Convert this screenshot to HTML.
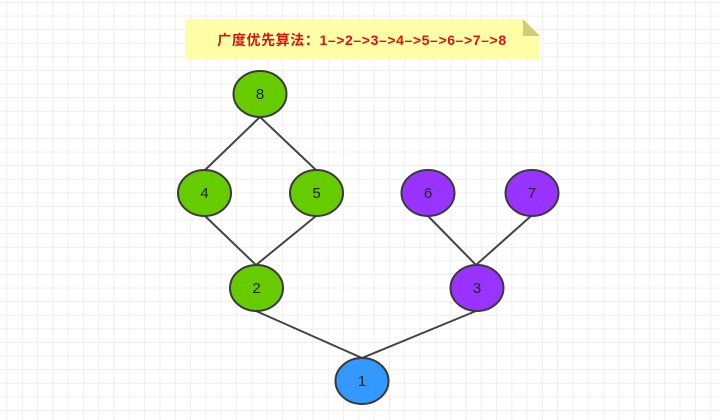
<!DOCTYPE html>
<html><head><meta charset="utf-8"><style>
html,body{margin:0;padding:0;width:720px;height:420px;overflow:hidden;background:#fff}
</style></head><body>
<svg width="720" height="420" xmlns="http://www.w3.org/2000/svg">
<defs>
<pattern id="g" x="6.5" y="2" width="15.3" height="13.6" patternUnits="userSpaceOnUse">
<path d="M0 0V13.6M0 0H15.3" stroke="#ebebeb" stroke-width="1.6" fill="none"/>
</pattern>
</defs>
<rect width="720" height="420" fill="url(#g)"/>
<polygon points="185,19 523,19 540,36 540,59 185,59" fill="#ffffa8"/>
<polygon points="523,19 540,36 523,36" fill="#d0cc78"/>
<text x="362" y="45" text-anchor="middle" font-family="Liberation Sans,'Noto Sans CJK SC',sans-serif" font-size="14" font-weight="bold" letter-spacing="0.6" fill="#dd1111">广度优先算法：1–&gt;2–&gt;3–&gt;4–&gt;5–&gt;6–&gt;7–&gt;8</text>
<g stroke="#444" stroke-width="2" fill="none">
<path d="M260 117L205 170M260 117L316 170M205 216L256 265M316 216L256 265M428 216L476 265M531 216L476 265M256 311L362 358M476 311L362 358"/>
</g>
<g stroke="#3a3a3a" stroke-width="2">
<ellipse cx="260" cy="94" rx="26.5" ry="23" fill="#66cc00"/>
<ellipse cx="204.5" cy="193" rx="26.5" ry="23" fill="#66cc00"/>
<ellipse cx="316.5" cy="193" rx="26.5" ry="23" fill="#66cc00"/>
<ellipse cx="428" cy="193" rx="26.5" ry="23" fill="#9933ff"/>
<ellipse cx="532" cy="193" rx="26.5" ry="23" fill="#9933ff"/>
<ellipse cx="256.5" cy="288" rx="26.5" ry="23" fill="#66cc00"/>
<ellipse cx="477" cy="288" rx="26.5" ry="23" fill="#9933ff"/>
<ellipse cx="362" cy="381" rx="26.5" ry="23" fill="#3399ff"/>
</g>
<g font-family="Liberation Sans,sans-serif" font-size="15" fill="#222" text-anchor="middle">
<text x="260" y="99">8</text><text x="204.5" y="198">4</text><text x="316.5" y="198">5</text>
<text x="428" y="198">6</text><text x="532" y="198">7</text><text x="256.5" y="293">2</text>
<text x="477" y="293">3</text><text x="362" y="386">1</text>
</g>
</svg>
</body></html>
